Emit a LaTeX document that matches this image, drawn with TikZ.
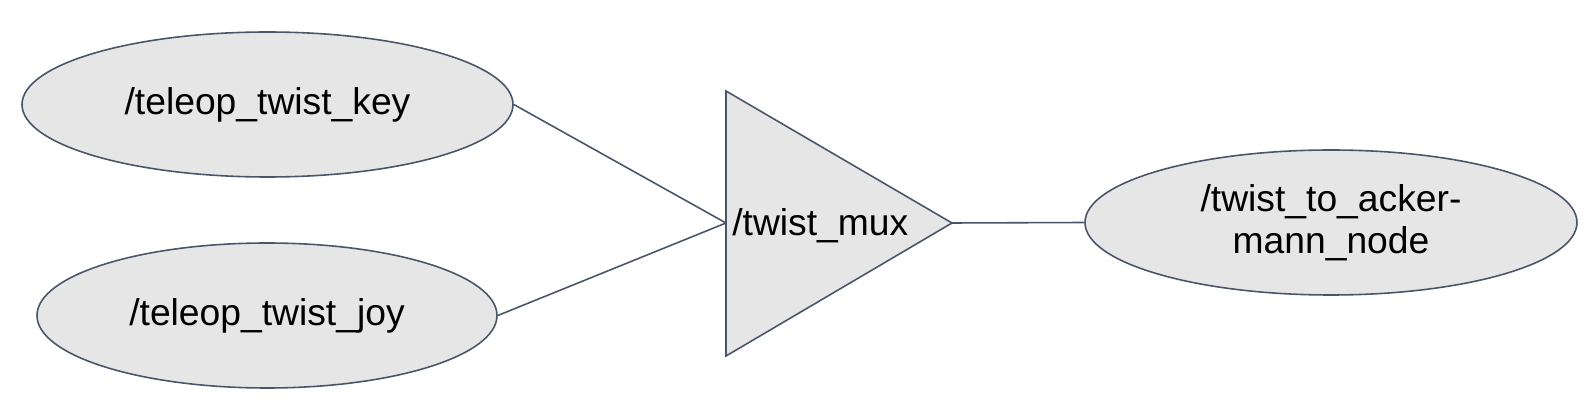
\documentclass[tikz,border=0pt]{standalone}
\usepackage{fontspec}
\setmainfont{Liberation Sans}
\usepackage{tikz}
\usetikzlibrary{positioning}
\usetikzlibrary{calc,shapes.geometric}

\definecolor{nodefill}{HTML}{E6E6E6}
\definecolor{nodeline}{HTML}{4A5568}

\tikzset{
	rosnode/.style={ellipse, draw=nodeline, fill=nodefill, line width=0.9pt,
		inner sep=0pt, minimum height=2.9cm, align=center,
		font=\fontsize{21.2}{23.9}\selectfont},
	muxshape/.style={draw=nodeline, fill=nodefill, line width=0.9pt, line join=miter},
	link/.style={draw=nodeline, line width=0.9pt},
}

\begin{document}
\begin{tikzpicture}
		
		% ---------------------
		% Proper size --- Bounding box
		\useasboundingbox (0.00cm, 0.00cm) rectangle (31.92cm, -8.38cm);
		
		% ---------------------
		% Teleop sources
		
		\node[rosnode, minimum width=9.82cm] (Key) at (5.35cm,-2.09cm) {/teleop\_twist\_key};
		\node[rosnode, minimum width=9.20cm] (Joy) at (5.34cm,-6.31cm) {/teleop\_twist\_joy};
		
		% ---------------------
		% Mux triangle
		
		\coordinate (MuxIn) at (14.52cm,-4.46cm);
		\path (MuxIn) +(0.00cm,+2.64cm) coordinate (MuxTop);
		\path (MuxIn) +(0.00cm,-2.66cm) coordinate (MuxBot);
		\path (MuxIn) +(4.52cm,0.00cm) coordinate (MuxOut);
		
		\draw[muxshape] (MuxTop) -- (MuxOut) -- (MuxBot) -- cycle;
		\node[anchor=base west, inner sep=0pt, font=\fontsize{21.2}{23.9}\selectfont]
			(Mux) at ($(MuxIn)+(0.12cm,-0.26cm)$) {/twist\_mux};
		
		% ---------------------
		% Ackermann output
		
		\node[rosnode, minimum width=9.84cm] (Acker) at (26.62cm,-4.45cm)
			{/twist\_to\_acker-\\mann\_node};
		
		% ---------------------
		\draw[link] (Key.east) -- (MuxIn);
		\draw[link] (Joy.east) -- (MuxIn);
		\draw[link] (MuxOut) -- (Acker.west);
		
\end{tikzpicture}
\end{document}
